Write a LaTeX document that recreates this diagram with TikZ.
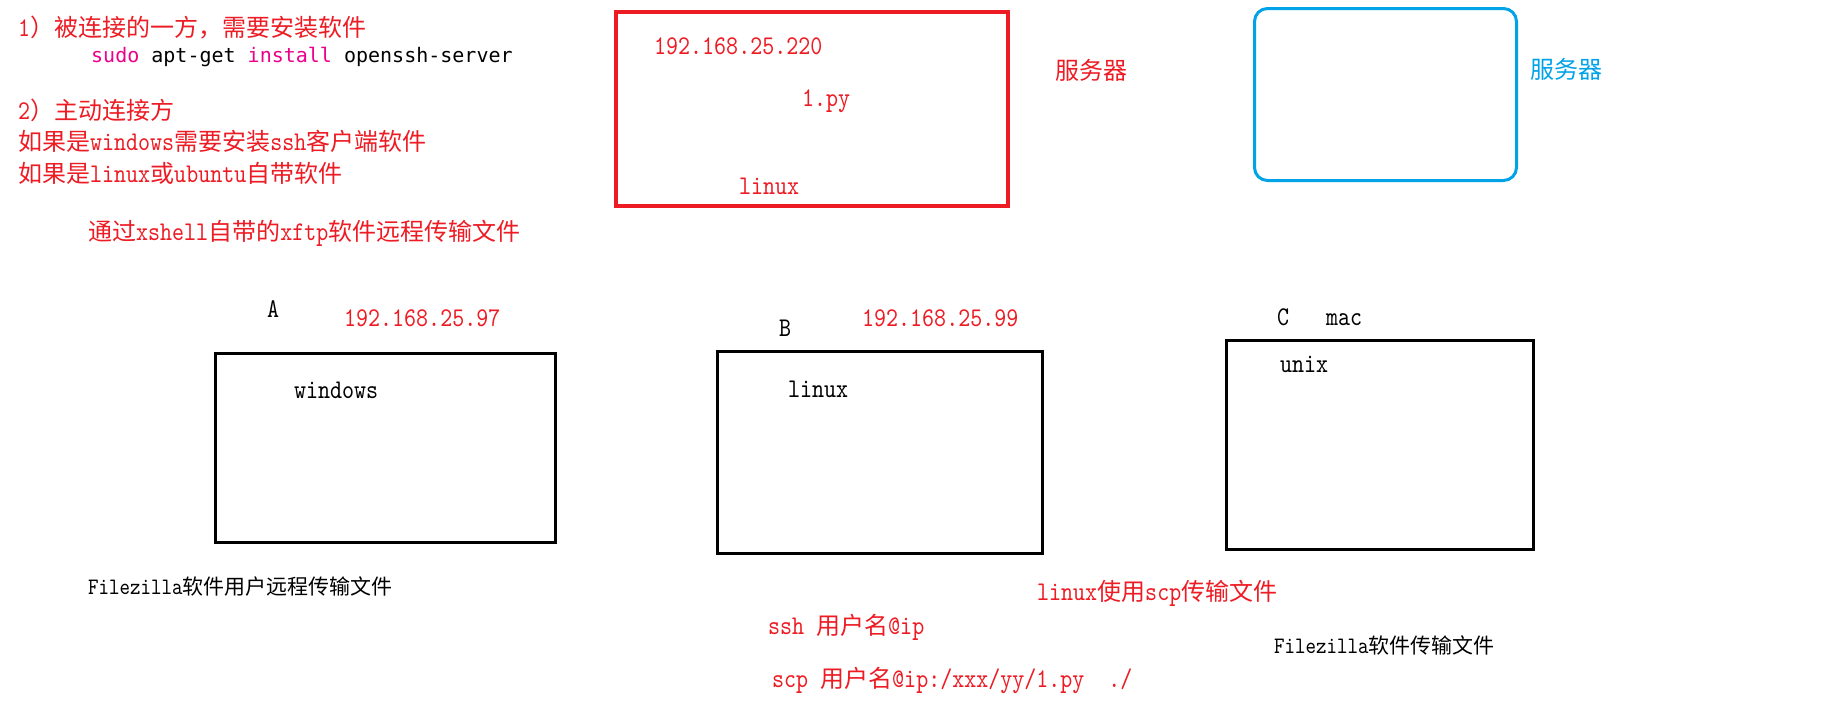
\documentclass[tikz,border=0pt]{standalone}
\usepackage{fontspec}
\setmainfont{lmmono10-regular.otf}[FakeStretch=0.847]
\newfontfamily\zhfont{Noto Sans CJK SC}[Scale=0.889]
\newfontfamily\codefont{DejaVu Sans Mono}
\newcommand\zh[1]{{\zhfont #1}}
\definecolor{myred}{RGB}{237,28,36}
\definecolor{myblue}{RGB}{0,162,232}
\definecolor{mypink}{RGB}{236,0,140}
\tikzset{
  txt/.style={anchor=base west, inner sep=0pt, font=\fontsize{27}{30}\selectfont},
  rtxt/.style={txt, text=myred},
  stxt/.style={anchor=base west, inner sep=0pt, font=\fontsize{23.6}{27}\selectfont},
  box/.style={draw=black, line width=3pt, inner sep=0pt},
}
\begin{document}
\begin{tikzpicture}[x=1pt,y=-1pt]
\useasboundingbox[fill=white] (0,0) rectangle (1834,728);
% top-left notes
\node[rtxt] (l1) at (18,36) {1\zh{）被连接的一方，需要安装软件}};
\node[txt, font=\codefont\fontsize{20}{24}\selectfont] (l2) at (91,62) {\textcolor{mypink}{sudo} apt-get \textcolor{mypink}{install} openssh-server};
\node[rtxt] (l3) at (18,119) {2\zh{）主动连接方}};
\node[rtxt] (l4) at (18,150.5) {\zh{如果是}windows\zh{需要安装}ssh\zh{客户端软件}};
\node[rtxt] (l5) at (18,182) {\zh{如果是}linux\zh{或}ubuntu\zh{自带软件}};
\node[rtxt] (l6) at (88,240) {\zh{通过}xshell\zh{自带的}xftp\zh{软件远程传输文件}};
% server (red)
\node[draw=myred, line width=3.5pt, minimum width=392pt, minimum height=194pt, inner sep=0pt] (srv) at (812,109) {};
\node[rtxt] (srvip) at (654,54) {192.168.25.220};
\node[rtxt] (srvpy) at (802,106.5) {1.py};
\node[rtxt] (srvos) at (739,194) {linux};
\node[rtxt] (srvlbl) at (1055,79) {\zh{服务器}};
% server (blue)
\node[draw=myblue, line width=3pt, rounded corners=13pt, minimum width=262pt, minimum height=172pt, inner sep=0pt] (srv2) at (1385.5,94.5) {};
\node[txt, text=myblue] (srv2lbl) at (1530,78) {\zh{服务器}};
% A
\node[box, minimum width=340pt, minimum height=189pt] (boxA) at (385.5,448) {};
\node[txt] (lblA) at (267,317) {A};
\node[rtxt] (ipA) at (344,326) {192.168.25.97};
\node[txt] (osA) at (294,398) {windows};
\node[stxt] (noteA) at (88,594) {Filezilla\zh{软件用户远程传输文件}};
% B
\node[box, minimum width=325pt, minimum height=202pt] (boxB) at (880,452.5) {};
\node[txt] (lblB) at (779,336) {B};
\node[rtxt] (ipB) at (862,326) {192.168.25.99};
\node[txt] (osB) at (788,397) {linux};
\node[rtxt] (noteB1) at (1037,600) {linux\zh{使用}scp\zh{传输文件}};
\node[rtxt] (noteB2) at (768,634) {ssh\ \zh{用户名}@ip};
\node[rtxt] (noteB3) at (772,687) {scp\ \zh{用户名}@ip:/xxx/yy/1.py\ \ ./};
% C
\node[box, minimum width=307pt, minimum height=209pt] (boxC) at (1380,445) {};
\node[txt] (lblC) at (1277,325) {C};
\node[txt] (macC) at (1326,325) {mac};
\node[txt] (osC) at (1280,372.5) {unix};
\node[stxt] (noteC) at (1274,653) {Filezilla\zh{软件传输文件}};
\end{tikzpicture}
\end{document}
